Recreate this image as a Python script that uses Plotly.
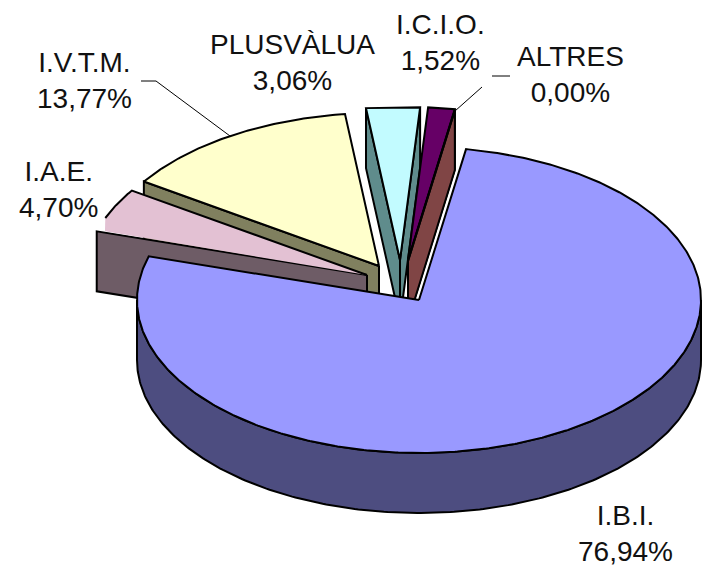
import numpy as np
import plotly.graph_objects as go

# ---- data (clockwise, starting at I.B.I.)
categories = ["I.B.I.", "I.A.E.", "I.V.T.M.", "PLUSVÀLUA", "I.C.I.O.", "ALTRES"]
values = [76.94, 4.70, 13.77, 3.06, 1.52, 0.00]

# ---- styles
top_colors = ["#9999FF", "#E3C1D3", "#FFFFCC", "#C2FBFF", "#660066", "#FF8080"]
wall_colors = ["#4D4D80", "#6E5C66", "#80805F", "#5F8C8C", "#804D4D", "#804545"]

# ---- projection of the 3-D pie (pixels)
CX, CY, RX, RY, DEPTH = 419, 300, 282, 153, 60
START_ANGLE = 9.6
W, H = 702, 566
# slice explosion offsets, pixels
pull_x = [0, -52, -40, -19, -11, -11]
pull_y = [0, -25, -34, -40, -40, -39]
clip_left = [None, 105, None, None, None, None]
# draw order, back to front
order = [2, 3, 4, 5, 1, 0]

# label centres (pixels)
label_x = [625, 58, 84, 292, 440, 570]
label_y = [533, 189, 80, 62, 42, 74]
FONT = "Liberation Sans, Arial, sans-serif"
FONT_SIZE = 28

fig = go.Figure()


def poly(x, y, fill, name, width=2.0):
    fig.add_trace(go.Scatter(
        x=x, y=y, mode="lines", fill="toself", fillcolor=fill, name=name,
        line=dict(color="#000000", width=width), hoverinfo="skip", showlegend=False))


def edge(t, cx, cy):
    r = np.radians(t)
    return cx + RX * np.sin(r), cy - RY * np.cos(r)


# angular extents from values
total = 100.0
starts, ends = [], []
a = START_ANGLE
for v in values:
    starts.append(a)
    a = a + v / total * 360
    ends.append(a)

for i in order:
    cx, cy = CX + pull_x[i], CY + pull_y[i]
    t0, t1 = starts[i], ends[i]
    name = categories[i]

    # walls: curved outer wall for the part facing the viewer
    lo, hi = max(t0, 90), min(t1, 270)
    if hi > lo:
        ts = np.linspace(lo, hi, 240)
        ax, ay = edge(ts, cx, cy)
        poly(np.r_[ax, ax[::-1], ax[0]], np.r_[ay, ay[::-1] + DEPTH, ay[0]], wall_colors[i], name)
    # flat cut walls
    for t, visible in ((t0, 180 < (t0 % 360) < 360), (t1, 0 <= (t1 % 360) < 180)):
        if visible:
            ex, ey = edge(np.array([t]), cx, cy)
            ex, ey = float(ex[0]), float(ey[0])
            poly([cx, ex, ex, cx, cx], [cy, ey, ey + DEPTH, cy + DEPTH, cy], wall_colors[i], name)

    # top face (very narrow slices are drawn with a straight rim)
    span = t1 - t0
    ts = np.linspace(t0, t1, 2 if span < 12 else int(span * 2))
    ax, ay = edge(ts, cx, cy)
    px = np.r_[cx, ax, cx]
    py = np.r_[cy, ay, cy]
    if clip_left[i] is None:
        poly(px, py, top_colors[i], name)
    else:
        # face clipped at the left of the drawing: the clipped side has no outline
        cl = clip_left[i]
        fig.add_trace(go.Scatter(x=np.maximum(px, cl), y=py, mode="lines", fill="toself",
                                 fillcolor=top_colors[i], line=dict(width=0), name=name,
                                 hoverinfo="skip", showlegend=False))
        mask = px >= cl
        fig.add_trace(go.Scatter(x=np.where(mask, px, np.nan), y=np.where(mask, py, np.nan),
                                 mode="lines", line=dict(color="#000000", width=2.0), name=name,
                                 hoverinfo="skip", showlegend=False, connectgaps=False))

# leader lines
leader = dict(mode="lines", line=dict(color="#000000", width=1), hoverinfo="skip", showlegend=False)
fig.add_trace(go.Scatter(x=[141, 156, 230], y=[81, 81, 136], **leader))
fig.add_trace(go.Scatter(x=[492, 510, None, 482, 455], y=[76, 76, None, 87, 111], **leader))

# labels
for c, v, x, y in zip(categories, values, label_x, label_y):
    pct = f"{v:.2f}".replace(".", ",")
    fig.add_annotation(x=x, y=y, xref="x", yref="y", showarrow=False, align="center",
                       text=f"{c}<br>{pct}%",
                       font=dict(family=FONT, size=FONT_SIZE, color="#111111"))

fig.update_xaxes(visible=False, range=[0, W], fixedrange=True)
fig.update_yaxes(visible=False, range=[H, 0], fixedrange=True)
fig.update_layout(width=W, height=H, margin=dict(l=0, r=0, t=0, b=0),
                  paper_bgcolor="#FFFFFF", plot_bgcolor="#FFFFFF", showlegend=False)
fig.write_html("out.html", config={"displayModeBar": False},
               post_script="document.body.style.margin='0';document.documentElement.style.overflow='hidden';")
